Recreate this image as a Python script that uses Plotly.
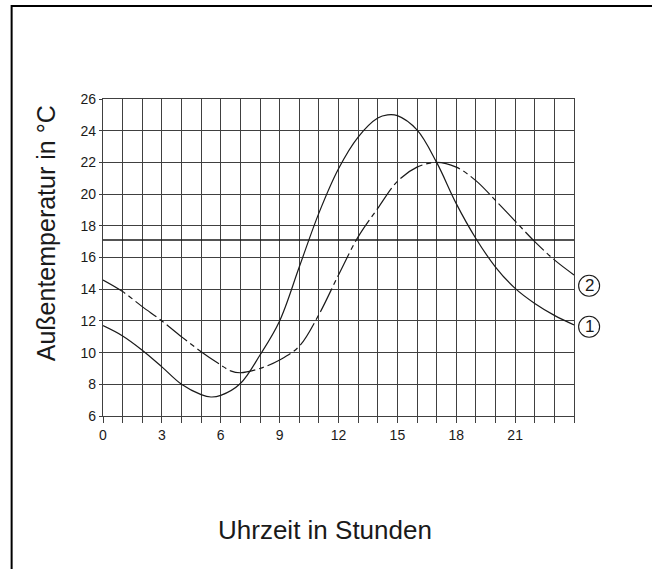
import plotly.graph_objects as go

# ---- data ----
hours_1 = [0, 1, 2, 3, 4, 5, 5.5, 6, 7, 8, 9, 10, 11, 12, 13, 14, 14.5, 15, 16, 17, 18, 19, 20, 21, 22, 23, 24]
temp_1 = [11.7, 11.05, 10.15, 9.1, 8.0, 7.35, 7.2, 7.3, 8.05, 9.85, 12.0, 15.4, 18.8, 21.6, 23.6, 24.8, 25.0, 24.95,
          24.05, 22.0, 19.4, 17.2, 15.4, 14.05, 13.1, 12.35, 11.75]

hours_2 = [0, 1, 2, 3, 4, 5, 6, 6.5, 7, 8, 9, 10, 11, 12, 13, 14, 15, 16, 17, 18, 19, 20, 21, 22, 23, 24]
temp_2 = [14.58, 13.85, 12.9, 12.0, 11.0, 10.06, 9.22, 8.85, 8.73, 9.0, 9.53, 10.4, 12.4, 14.9, 17.3, 19.1, 20.8,
          21.7, 22.0, 21.7, 20.85, 19.6, 18.3, 17.0, 15.85, 14.9]

ref_hours = [0, 24]
ref_temp = [17.1, 17.1]

label_hour = [24.77, 24.77]
label_temp = [14.22, 11.63]
label_text = ["2", "1"]

x_range = [0, 24]
y_range = [6, 26]
x_tickvals = list(range(0, 25))
x_ticktext = [str(h) if (h % 3 == 0 and h < 24) else "" for h in x_tickvals]
y_tickvals = list(range(6, 27, 2))
y_ticktext = [str(v) for v in y_tickvals]

FONT = "Liberation Sans, Arial, Helvetica, sans-serif"
INK = "#1a1a1a"
GRID = "#404040"

fig = go.Figure()

fig.add_trace(go.Scatter(x=ref_hours, y=ref_temp, mode="lines",
                         line=dict(color=INK, width=1.6), hoverinfo="skip", showlegend=False))
fig.add_trace(go.Scatter(x=hours_2, y=temp_2, mode="lines",
                         line=dict(color=INK, width=1.2, shape="spline", smoothing=1.0,
                                   dash="26px,4px,5px,4px"),
                         showlegend=False))
fig.add_trace(go.Scatter(x=hours_1, y=temp_1, mode="lines",
                         line=dict(color=INK, width=1.2, shape="spline", smoothing=1.0),
                         showlegend=False))

# circled curve labels, positioned through the axis domains
for h, t, s in zip(label_hour, label_temp, label_text):
    xf = (h - x_range[0]) / (x_range[1] - x_range[0])
    yf = (t - y_range[0]) / (y_range[1] - y_range[0])
    fig.add_shape(type="circle", xref="x domain", yref="y domain",
                  xsizemode="pixel", ysizemode="pixel", xanchor=xf, yanchor=yf,
                  x0=-10.5, x1=10.5, y0=-10.5, y1=10.5,
                  line=dict(color=INK, width=1.1))
    fig.add_annotation(text=s, xref="x domain", yref="y domain", x=xf, y=yf,
                       showarrow=False, xanchor="center", yanchor="middle",
                       font=dict(family=FONT, size=17, color=INK))

fig.update_xaxes(range=x_range, tickmode="array", tickvals=x_tickvals, ticktext=x_ticktext,
                 ticks="outside", ticklen=6, tickcolor=GRID, tickwidth=1,
                 showgrid=True, gridcolor=GRID, gridwidth=1.2, zeroline=False,
                 showline=True, linecolor=GRID, linewidth=1.2, mirror=True,
                 tickfont=dict(family=FONT, size=14, color=INK))
fig.update_yaxes(range=y_range, tickmode="array", tickvals=y_tickvals, ticktext=y_ticktext,
                 ticks="outside", ticklen=3, tickcolor=GRID, tickwidth=1,
                 showgrid=True, gridcolor=GRID, gridwidth=1.2, zeroline=False,
                 showline=True, linecolor=GRID, linewidth=1.2, mirror=True,
                 tickfont=dict(family=FONT, size=14, color=INK))

fig.add_annotation(text="Außentemperatur in °C", xref="paper", yref="paper", x=-0.122, y=0.575,
                   textangle=-90, showarrow=False, xanchor="center", yanchor="middle",
                   font=dict(family=FONT, size=25, color=INK))
fig.add_annotation(text="Uhrzeit in Stunden", xref="paper", yref="paper", x=0.471, y=-0.361,
                   showarrow=False, xanchor="center", yanchor="middle",
                   font=dict(family=FONT, size=26, color=INK))

# page frame (left and top edges)
fig.add_shape(type="path", xref="paper", yref="paper",
              path="M -0.194 -0.49 L -0.194 1.2937 L 1.17 1.2937",
              line=dict(color="black", width=2))

fig.update_layout(width=652, height=569, margin=dict(l=103, r=78, t=99, b=153),
                  plot_bgcolor="white", paper_bgcolor="white", showlegend=False)

fig.write_html("out.html", config={"displayModeBar": False},
               post_script="document.body.style.margin='0';")
